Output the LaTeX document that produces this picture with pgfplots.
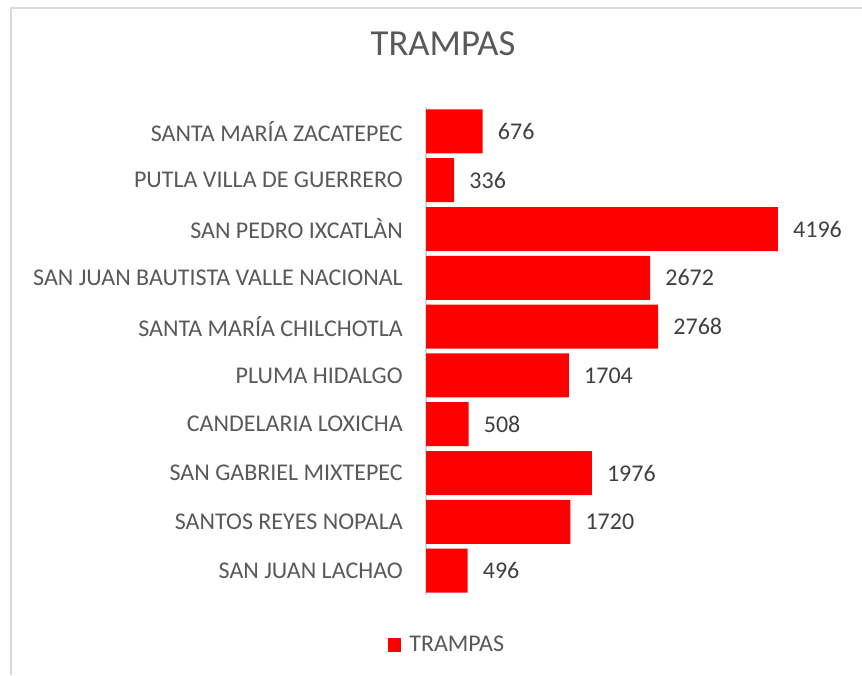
\documentclass[border=0pt]{standalone}
\usepackage{fontspec}
\setmainfont{Carlito}
\usepackage{pgfplots}
\pgfplotsset{compat=1.18}
\definecolor{barred}{RGB}{255,0,0}
\definecolor{lbl}{RGB}{89,89,89}
\definecolor{num}{RGB}{64,64,64}
\definecolor{framegray}{RGB}{217,217,217}

\begin{document}
\begin{tikzpicture}
\path[use as bounding box] (0,0) rectangle (646.5pt,506.25pt);
\draw[framegray, line width=1.5pt] (8.25pt,0) -- (8.25pt,500pt) -- (646.5pt,500pt);
\begin{axis}[
  at={(319.5pt,60pt)}, anchor=south west,
  scale only axis, width=283.1pt, height=366pt,
  xbar, bar width=33pt,
  xmin=0, xmax=4500,
  ymin=-0.5, ymax=9.5, y dir=reverse,
  ytick={0,...,9},
  yticklabels={SANTA MARÍA ZACATEPEC, PUTLA VILLA DE GUERRERO, SAN PEDRO IXCATLÀN,
    SAN JUAN BAUTISTA VALLE NACIONAL, SANTA MARÍA CHILCHOTLA, PLUMA HIDALGO,
    CANDELARIA LOXICHA, SAN GABRIEL MIXTEPEC, SANTOS REYES NOPALA, SAN JUAN LACHAO},
  axis x line=none, axis y line*=left,
  y axis line style={framegray, line width=1pt, -},
  major tick length=0pt,
  yticklabel style={font=\fontsize{18}{20}\selectfont, text=lbl, inner sep=0pt, xshift=-17.25pt},
  /pgf/number format/1000 sep={},
  /pgf/number format/assume math mode=true,
  nodes near coords,
  nodes near coords style={font=\fontsize{18}{20}\selectfont, text=num, anchor=west, inner sep=0pt, xshift=11.25pt},
  title={TRAMPAS},
  title style={at={(0.045,1.1127)}, anchor=center, font=\fontsize{27.5}{30}\selectfont, text=lbl},
  legend style={at={(0.057,-0.1025)}, anchor=center, draw=none, fill=none,
    column sep=4pt, font=\fontsize{18}{20}\selectfont, text=lbl},
  legend image code/.code={\fill[barred] (0pt,-4.9pt) rectangle (9.75pt,4.9pt);},
]
\addplot[fill=barred, draw=none] coordinates {
  (676,0) (336,1) (4196,2) (2672,3) (2768,4)
  (1704,5) (508,6) (1976,7) (1720,8) (496,9)};
\addlegendentry{TRAMPAS}
\end{axis}
\end{tikzpicture}
\end{document}
